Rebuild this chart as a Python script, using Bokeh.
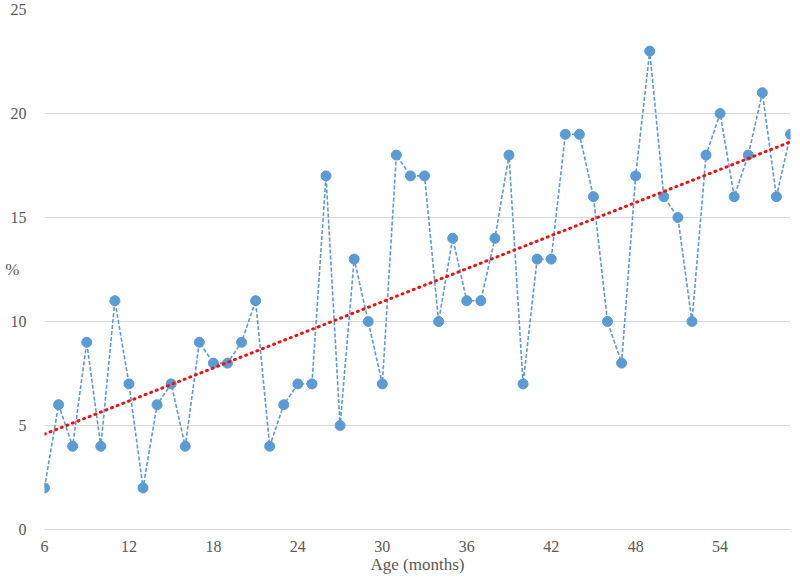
import numpy as np
from bokeh.plotting import figure
from bokeh.models import ColumnDataSource, FixedTicker, Range1d
from bokeh.embed import file_html
from bokeh.resources import INLINE

ages = list(range(6, 60))
pct = [2, 6, 4, 9, 4, 11, 7, 2, 6, 7,
       4, 9, 8, 8, 9, 11, 4, 6, 7, 7,
       17, 5, 13, 10, 7, 18, 17, 17, 10, 14,
       11, 11, 14, 18, 7, 13, 13, 19, 19, 16,
       10, 8, 17, 23, 16, 15, 10, 18, 20, 16,
       18, 21, 16, 19]
x_ticks = [6, 12, 18, 24, 30, 36, 42, 48, 54]
y_ticks = [0, 5, 10, 15, 20, 25]

# linear trend line fitted to the series
slope, intercept = np.polyfit(ages, pct, 1)
trend_x = [ages[0], ages[-1]]
trend_y = [slope * a + intercept for a in trend_x]

FONT = "Liberation Serif"
GRAY = "#595959"
BLUE = "#5B9BD5"

p = figure(width=792, height=576, output_backend="svg", toolbar_location=None,
           x_range=Range1d(6, 59), y_range=Range1d(0, 25),
           min_border_left=44, min_border_right=2, min_border_top=9, min_border_bottom=43)
p.outline_line_color = None
p.background_fill_color = "white"

src = ColumnDataSource(dict(x=ages, y=pct))
p.line("x", "y", source=src, line_color=BLUE, line_width=1.6, line_dash="4 2")
p.scatter("x", "y", source=src, size=10, fill_color=BLUE, line_color=BLUE)
p.line(trend_x, trend_y, line_color="#F01010", line_width=3, line_dash="1 5", line_cap="round")

p.xaxis.ticker = FixedTicker(ticks=x_ticks)
p.yaxis.ticker = FixedTicker(ticks=y_ticks)
p.xgrid.grid_line_color = None
p.ygrid.grid_line_color = "#D9D9D9"
p.ygrid.grid_line_width = 1.2

for ax in (p.xaxis[0], p.yaxis[0]):
    ax.major_tick_line_color = None
    ax.minor_tick_line_color = None
    ax.major_label_text_font = FONT
    ax.major_label_text_font_size = "16px"
    ax.major_label_text_color = GRAY
    ax.axis_label_text_font = FONT
    ax.axis_label_text_font_size = "17px"
    ax.axis_label_text_color = GRAY
    ax.axis_label_text_font_style = "normal"

p.xaxis.axis_line_color = "#D9D9D9"
p.xaxis.axis_line_width = 1.2
p.yaxis.axis_line_color = None
p.xaxis.axis_label = "Age (months)"
p.xaxis.axis_label_standoff = 0
p.xaxis.major_label_standoff = 5
p.yaxis.major_label_standoff = 12
p.yaxis.axis_label = "%"
p.yaxis.axis_label_orientation = "horizontal"
p.yaxis.axis_label_standoff = -12

open("out.html", "w").write(file_html(p, INLINE))
